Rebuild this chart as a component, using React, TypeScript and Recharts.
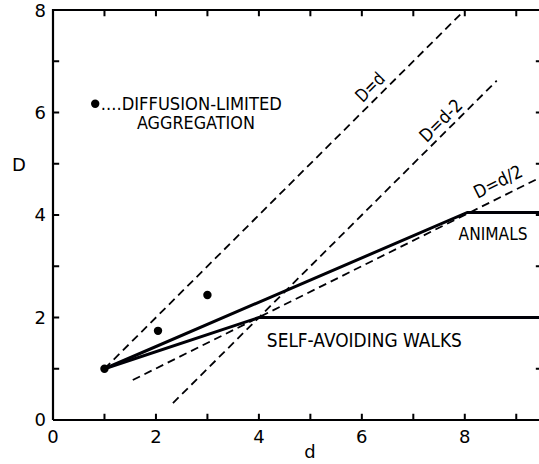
import { ComposedChart, Line, Scatter, XAxis, YAxis, ReferenceDot } from "recharts";

// D vs d guide lines and curves
const dEqualsD = [{ d: 1, D: 1 }, { d: 8, D: 8 }];
const dMinusTwo = [{ d: 2.33, D: 0.33 }, { d: 8.62, D: 6.62 }];
const dHalf = [{ d: 1.55, D: 0.78 }, { d: 9.5, D: 4.75 }];
const animals = [{ d: 1, D: 1 }, { d: 8.05, D: 4.05 }, { d: 9.5, D: 4.05 }];
const selfAvoidingWalks = [{ d: 1, D: 1 }, { d: 4, D: 2 }, { d: 9.5, D: 2 }];
const dlaPoints = [{ d: 1, D: 1 }, { d: 2.04, D: 1.74 }, { d: 3, D: 2.44 }];
const dlaKey = [{ d: 0.82, D: 6.17 }];

const xLabels = [0, 2, 4, 6, 8];
const yLabels = [0, 2, 4, 6, 8];
const xMinor = [1, 2, 3, 4, 5, 6, 7, 8, 9];
const yMinor = [1, 2, 3, 4, 5, 6, 7];

const X_MAX = 9.5;
const Y_MAX = 8;
const TICK = 0.12; // inward tick length, in axis units

const FONT = "'DejaVu Sans', sans-serif";

type Pt = { d: number; D: number | null };

// frame box drawn as a series so it uses the chart scales
const frame: Pt[] = [
  { d: 0, D: 0 },
  { d: 0, D: Y_MAX },
  { d: X_MAX, D: Y_MAX },
  { d: X_MAX, D: 0 },
  { d: 0, D: 0 },
];

// inward ticks on all four sides, separated by null gaps
const tickMarks: Pt[] = [];
const seg = (a: Pt, b: Pt) => tickMarks.push(a, b, { d: b.d, D: null });
xMinor.forEach((v) => seg({ d: v, D: 0 }, { d: v, D: TICK }));
xMinor.forEach((v) => seg({ d: v, D: Y_MAX }, { d: v, D: Y_MAX - TICK }));
yMinor.forEach((v) => seg({ d: 0, D: v }, { d: TICK, D: v }));
yMinor.forEach((v) => seg({ d: X_MAX, D: v }, { d: X_MAX - TICK, D: v }));

type Note = {
  text: string;
  d: number;
  D: number;
  len?: number;
  angle?: number;
  anchor?: "start" | "middle" | "end";
  size?: number;
};

const notes: Note[] = [
  { text: "....DIFFUSION-LIMITED", d: 0.93, D: 6.05, len: 181 },
  { text: "AGGREGATION", d: 1.63, D: 5.68, len: 118 },
  { text: "SELF-AVOIDING WALKS", d: 4.155, D: 1.42, len: 195, size: 19 },
  { text: "ANIMALS", d: 7.88, D: 3.51, len: 69 },
  { text: "D=d", d: 6.245, D: 6.41, len: 33, angle: -45, anchor: "middle" },
  { text: "D=d-2", d: 7.62, D: 5.76, len: 52, angle: -45, anchor: "middle" },
  { text: "D=d/2", d: 8.7, D: 4.54, len: 52, angle: -26.5, anchor: "middle" },
  { text: "D", d: -0.66, D: 4.85, anchor: "middle" },
  { text: "d", d: 4.99, D: -0.74, anchor: "middle" },
];

const renderNote = (n: Note) => (props: any) => {
  const vb = props.viewBox || {};
  const x = vb.x;
  const y = vb.y;
  return (
    <text
      x={x}
      y={y}
      textAnchor={n.anchor || "start"}
      fontSize={n.size || 18}
      fontFamily={FONT}
      fill="#000"
      transform={n.angle ? `rotate(${n.angle} ${x} ${y})` : undefined}
      {...(n.len ? { textLength: n.len, lengthAdjust: "spacingAndGlyphs" } : {})}
    >
      {n.text}
    </text>
  );
};

const dot = (p: any) => <circle cx={p.cx} cy={p.cy} r={4.2} fill="#000" />;

const tickStyle = { fontSize: 18, fill: "#000", fontFamily: FONT };

// each series gets its own id/name/stroke so Recharts keeps them apart
const series = [
  { id: "frame", data: frame, stroke: "#000001", width: 2.2 },
  { id: "ticks", data: tickMarks, stroke: "#000002", width: 2 },
  { id: "d-eq-d", data: dEqualsD, stroke: "#000003", width: 1.8, dash: "8 5" },
  { id: "d-minus-2", data: dMinusTwo, stroke: "#000004", width: 1.8, dash: "8 5" },
  { id: "d-half", data: dHalf, stroke: "#000005", width: 1.8, dash: "8 5" },
  { id: "animals", data: animals, stroke: "#000006", width: 3 },
  { id: "saw", data: selfAvoidingWalks, stroke: "#000007", width: 3 },
];

export default function App() {
  return (
    <div
      style={{
        position: "fixed",
        left: 0,
        top: 0,
        width: 539,
        height: 464,
        overflow: "hidden",
        background: "#fff",
      }}
    >
      <ComposedChart width={560} height={464} margin={{ top: 10, right: 18, bottom: 0, left: 0 }}>
        <XAxis
          type="number"
          dataKey="d"
          domain={[0, X_MAX]}
          ticks={xLabels}
          height={44}
          axisLine={false}
          tickLine={false}
          tickSize={6}
          tickMargin={4}
          tick={tickStyle}
        />
        <YAxis
          type="number"
          domain={[0, Y_MAX]}
          ticks={yLabels}
          width={53}
          axisLine={false}
          tickLine={false}
          tickSize={6}
          tickMargin={1}
          tick={tickStyle}
        />

        {series.map((s) => (
          <Line
            key={s.id}
            id={s.id}
            name={s.id}
            data={s.data}
            dataKey="D"
            stroke={s.stroke}
            strokeWidth={s.width}
            strokeDasharray={s.dash}
            connectNulls={false}
            dot={false}
            activeDot={false}
            isAnimationActive={false}
          />
        ))}
        <Scatter id="dla" name="dla" data={dlaPoints} dataKey="D" shape={dot} isAnimationActive={false} />
        <Scatter id="dla-key" name="dla-key" data={dlaKey} dataKey="D" shape={dot} isAnimationActive={false} />

        {notes.map((n) => (
          <ReferenceDot
            key={n.text}
            x={n.d}
            y={n.D}
            r={0}
            fill="none"
            stroke="none"
            ifOverflow="visible"
            label={renderNote(n)}
          />
        ))}
      </ComposedChart>
    </div>
  );
}
